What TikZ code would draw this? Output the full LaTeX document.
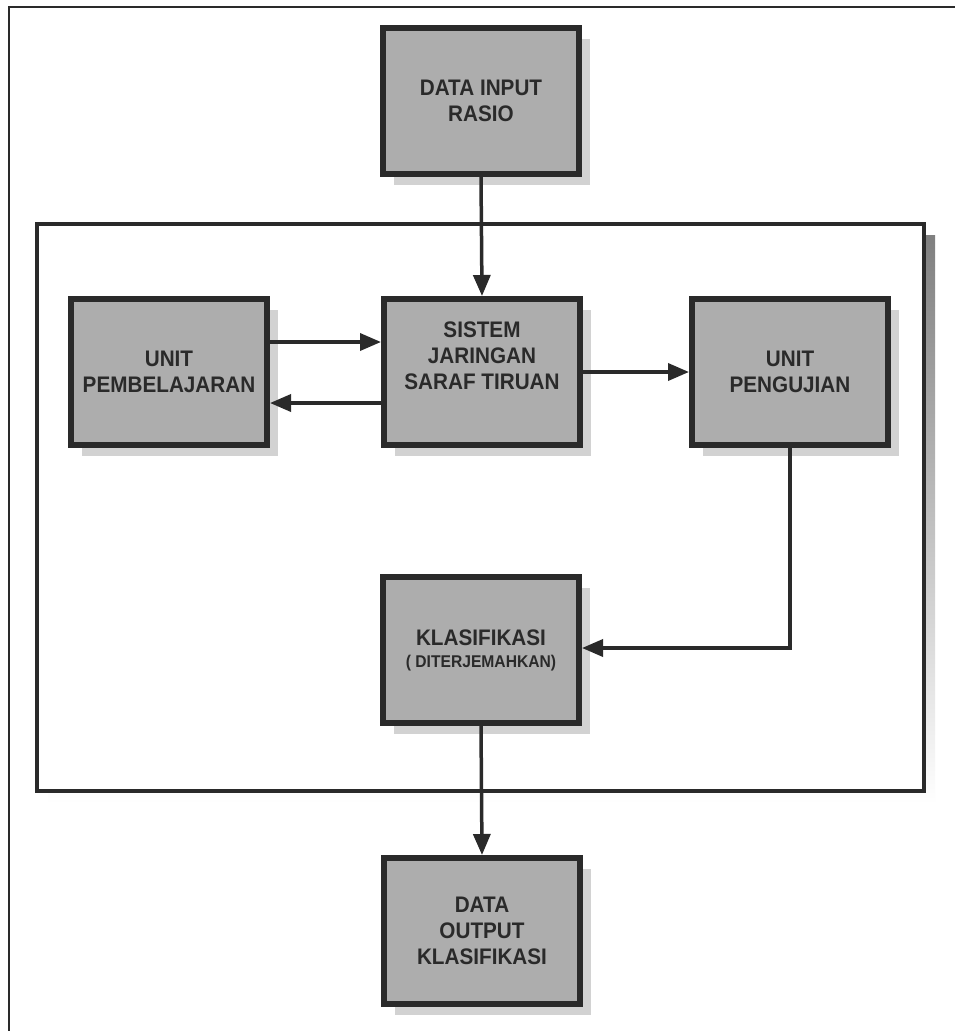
\documentclass[tikz,border=0pt]{standalone}
\usepackage{fontspec}
\setmainfont{Liberation Sans}
\newfontfamily\boxfont[FakeStretch=0.92]{Liberation Sans}
\usetikzlibrary{arrows.meta,shadows}
\definecolor{ink}{HTML}{2A2A2A}
\definecolor{boxfill}{HTML}{ADADAD}
\definecolor{shade}{HTML}{D2D2D2}
\begin{document}
\begin{tikzpicture}[x=1pt,y=-1pt,
  boxshadow/.style={drop shadow={shadow xshift=11pt,shadow yshift=-11pt,fill=shade,opacity=1}},
  stagebox/.style={draw=ink,line width=6pt,fill=boxfill,minimum width=196pt,minimum height=146pt,
    inner sep=3pt,align=center,text=ink,font=\boxfont\fontsize{22.5}{26}\selectfont\bfseries,boxshadow},
  flow/.style={draw=ink,line width=3.5pt,-{Triangle[length=21pt,width=17pt]}}]
  \useasboundingbox (0,0) rectangle (955,1031);
  \fill[white] (0,0) rectangle (955,1031);
  % page frame (top and left edges)
  \draw[ink,line width=2.5pt] (9,1035) -- (9,7) -- (960,7);
  % enclosing block of the network system
  \fill[shade] (48,235) rectangle (935,804);
  \draw[ink,line width=3.5pt,fill=white] (37,224) rectangle (924,791);
  % stages
  \node[stagebox] (in)    at (481,101) {DATA INPUT\\RASIO};
  \node[stagebox] (learn) at (169,372) {UNIT\\PEMBELAJARAN};
  \node[stagebox] (ann)   at (482,372) {SISTEM\\JARINGAN\\SARAF TIRUAN\\[6pt]};
  \node[stagebox] (test)  at (790,372) {UNIT\\PENGUJIAN};
  \node[stagebox] (cls)   at (481,650) {KLASIFIKASI\\[-4pt]{\fontsize{17}{19}\selectfont( DITERJEMAHKAN)}};
  \node[stagebox] (out)   at (482,931) {DATA\\OUTPUT\\KLASIFIKASI};
  % connectors
  \draw[flow] (in.south) -- (ann.north);
  \draw[flow] ([yshift=30pt]learn.east) -- ([yshift=30pt]ann.west);
  \draw[flow] ([yshift=-31pt]ann.west) -- ([yshift=-31pt]learn.east);
  \draw[flow] (ann.east) -- (test.west);
  \draw[flow] (test.south) |- ([yshift=2pt]cls.east);
  \draw[flow] (cls.south) -- (out.north);
\end{tikzpicture}
\end{document}
